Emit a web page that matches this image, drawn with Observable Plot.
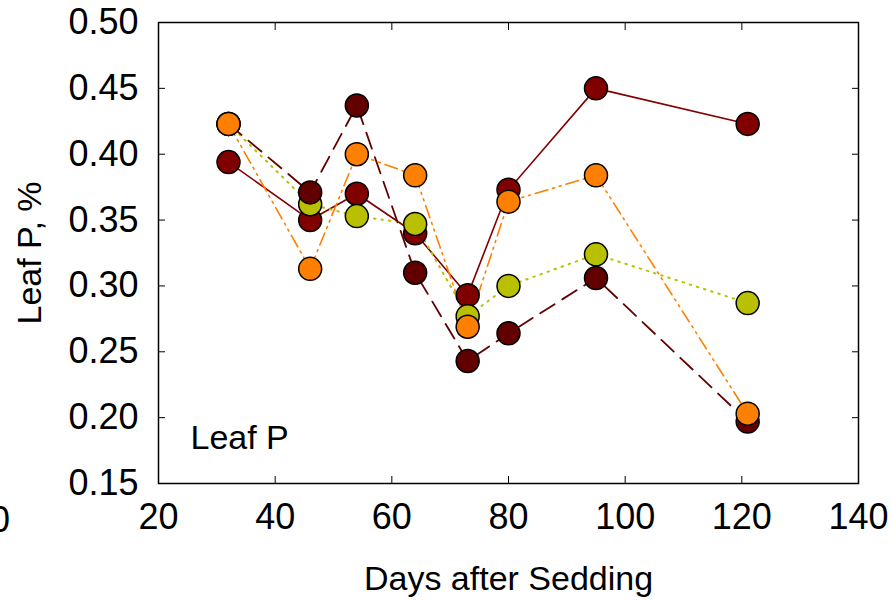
<!DOCTYPE html>
<html><head><meta charset="utf-8">
<script src="https://cdn.jsdelivr.net/npm/d3@7"></script>
<script src="https://cdn.jsdelivr.net/npm/@observablehq/plot@0.6"></script>
<style>
body{margin:0;background:#fff;overflow:hidden;font-family:"Liberation Sans",Arial,sans-serif}
#wrap{position:relative;width:892px;height:602px}
#stray{position:absolute;left:-10px;top:502px;font-size:36px;line-height:36px;color:#000}
</style></head><body><div id="wrap"><div id="stray">0</div></div>
<script>
const days = [32, 46, 54, 64, 73, 80, 95, 121];
const seriesNames = ["S1", "S2", "S3", "S4"];
const solidRed   = [0.394, 0.350, 0.370, 0.340, 0.293, 0.373, 0.450, 0.423];
const dottedGreen = [0.423, 0.362, 0.353, 0.347, 0.277, 0.300, 0.324, 0.287];
const dashedDark = [0.423, 0.371, 0.437, 0.310, 0.243, 0.264, 0.306, 0.197];
const dashDotOrange = [0.423, 0.313, 0.400, 0.384, 0.269, 0.364, 0.384, 0.203];
const xTicks = [20, 40, 60, 80, 100, 120, 140];
const yTicks = [0.15, 0.20, 0.25, 0.30, 0.35, 0.40, 0.45, 0.50];
const xLabel = "Days after Sedding";
const yLabel = "Leaf P, %";
const panelLabel = "Leaf P";

const seriesValues = [solidRed, dottedGreen, dashedDark, dashDotOrange];
const styles = [
  {color: "#800000", dash: null, width: 1.6},
  {color: "#b9c000", dash: "1.5,6", width: 2},
  {color: "#620000", dash: "17,9", width: 1.8},
  {color: "#ff8000", dash: "13,5,2,5,2,5", width: 1.6}
];
const rows = seriesNames.map((name, k) => days.map((d, i) => ({day: d, p: seriesValues[k][i], s: name})));

const lines = rows.map((r, k) => Plot.line(r, {x: "day", y: "p", stroke: styles[k].color, strokeWidth: styles[k].width, strokeDasharray: styles[k].dash}));
const dots = rows.map((r, k) => Plot.dot(r, {x: "day", y: "p", r: 11.5, fill: styles[k].color, stroke: "#000", strokeWidth: 1.5}));

const chart = Plot.plot({
  width: 892, height: 602,
  marginLeft: 158, marginRight: 34, marginTop: 22, marginBottom: 119,
  style: {fontFamily: "Liberation Sans, Arial, sans-serif", background: "#fff", color: "#000"},
  x: {domain: [20, 140]},
  y: {domain: [0.15, 0.50]},
  marks: [
    Plot.axisX(xTicks, {tickSize: 7, dy: -7, text: null, stroke: "#000", label: null}),
    Plot.axisX(xTicks, {anchor: "top", tickSize: 7, dy: 7, text: null, stroke: "#000", label: null}),
    Plot.axisY(yTicks, {tickSize: 7, dx: 7, text: null, stroke: "#000", label: null}),
    Plot.axisY(yTicks, {anchor: "right", tickSize: 7, dx: -7, text: null, stroke: "#000", label: null}),
    Plot.axisX(xTicks, {tickSize: 0, tickPadding: 20, fontSize: 36, label: null, fill: "#000"}),
    Plot.axisY(yTicks, {tickSize: 0, tickPadding: 20, fontSize: 36, label: null, tickFormat: d3.format(".2f"), fill: "#000"}),
    Plot.frame({stroke: "#000", strokeWidth: 1.5}),
    ...lines,
    ...dots,
    Plot.text([panelLabel], {frameAnchor: "bottom-left", text: d => d, textAnchor: "start", lineAnchor: "middle", dx: 32, dy: -45, fontSize: 34, fill: "#000"}),
    Plot.text([xLabel], {frameAnchor: "bottom", text: d => d, textAnchor: "middle", lineAnchor: "middle", dy: 96, fontSize: 34, fill: "#000"}),
    Plot.text([yLabel], {frameAnchor: "left", text: d => d, rotate: -90, textAnchor: "middle", lineAnchor: "middle", dx: -128, fontSize: 34, fill: "#000"})
  ]
});
document.getElementById("wrap").appendChild(chart);
</script></body></html>
